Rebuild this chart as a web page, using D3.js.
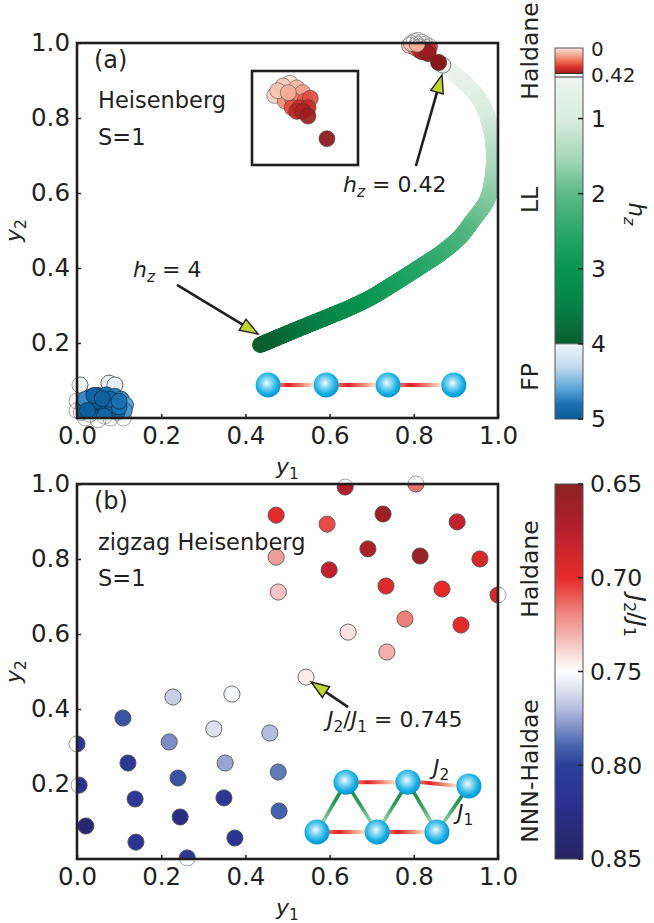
<!DOCTYPE html>
<html><head><meta charset="utf-8">
<script src="https://cdn.jsdelivr.net/npm/d3@7/dist/d3.min.js"></script>
<style>
body{margin:0;background:#fff}
text{font-family:"DejaVu Sans",sans-serif;fill:#231f20}
</style>
</head><body>
<svg id="c" width="654" height="923"></svg>
<script>
// ---------------- DATA ----------------
const axisTicks = [0.0, 0.2, 0.4, 0.6, 0.8, 1.0];
const yAxisTicks = [0.2, 0.4, 0.6, 0.8, 1.0];
const hzTicks = [0, 0.42, 1, 2, 3, 4, 5];
const jTicks = [0.65, 0.70, 0.75, 0.80, 0.85];

// (a) FP cluster
const fpY1 = [0.007,0.076,0.090,0.000,0.000,0.020,0.050,0.080,0.110,0.030,0.050,0.070,0.090,0.105,0.115,0.112,0.095,0.075,0.055,0.035,0.015,0.010,0.030,0.060,0.085,0.045,0.100,0.020,0.065,0.040,0.080,0.100,0.025,0.060];
const fpY2 = [0.088,0.093,0.088,0.045,0.020,0.000,-0.005,0.000,0.000,0.055,0.060,0.062,0.058,0.050,0.035,0.020,0.015,0.020,0.025,0.030,0.035,0.015,0.010,0.040,0.035,0.045,0.030,0.050,0.005,0.060,0.050,0.045,0.020,0.052];
const fpHz = [4.02,4.05,4.08,4.10,4.15,4.10,4.05,4.20,4.30,4.85,4.90,4.80,4.75,4.70,4.60,4.65,4.90,4.95,5.00,4.95,4.90,4.85,4.90,4.95,4.90,4.98,4.80,4.70,4.90,4.92,4.88,4.82,4.96,4.94];

// (a) Haldane cluster
const hdY1 = [0.790,0.810,0.801,0.819,0.827,0.804,0.814,0.830,0.837,0.813,0.823,0.834,0.819,0.827,0.834,0.794,0.808,0.859];
const hdY2 = [0.994,1.007,1.004,1.002,0.997,0.988,0.989,0.988,0.991,0.981,0.981,0.981,0.977,0.977,0.972,0.999,0.997,0.948];
const hdHz = [0.03,0.01,0.05,0.08,0.12,0.15,0.18,0.22,0.25,0.26,0.30,0.33,0.35,0.37,0.39,0.06,0.10,0.41];

// (a) LL band
const llY1 = [0.869,0.915,0.957,0.981,0.990,0.988,0.974,0.941,0.910,0.865,0.815,0.755,0.696,0.648,0.601,0.520,0.435];
const llY2 = [0.941,0.900,0.848,0.781,0.715,0.648,0.581,0.528,0.483,0.440,0.403,0.360,0.320,0.294,0.272,0.235,0.195];
const llHz = [0.42,0.60,0.80,1.05,1.30,1.50,1.70,1.90,2.10,2.30,2.50,2.70,2.90,3.10,3.30,3.65,4.00];

// (b) zigzag points
const zzY1 = [0.473,0.473,0.478,0.544,0.637,0.805,0.594,0.727,0.903,0.691,0.815,0.957,0.599,0.734,0.867,1.000,0.779,0.912,0.644,0.736,
              0.228,0.368,0.109,0.325,0.458,0.000,0.219,0.121,0.352,0.478,0.240,0.005,0.138,0.349,0.480,0.245,0.021,0.140,0.375,0.262];
const zzY2 = [0.917,0.805,0.712,0.485,0.992,1.000,0.893,0.920,0.899,0.827,0.808,0.800,0.771,0.728,0.720,0.704,0.640,0.624,0.605,0.552,
              0.432,0.440,0.376,0.347,0.336,0.307,0.312,0.256,0.256,0.232,0.216,0.197,0.160,0.163,0.128,0.112,0.088,0.045,0.056,0.003];
const zzJ  = [0.700,0.725,0.735,0.745,0.670,0.715,0.707,0.660,0.680,0.670,0.660,0.690,0.680,0.695,0.700,0.690,0.718,0.700,0.742,0.730,
              0.765,0.752,0.795,0.760,0.770,0.815,0.780,0.810,0.775,0.785,0.795,0.815,0.810,0.810,0.790,0.830,0.840,0.815,0.815,0.810];

// ---------------- COLOUR MAPS ----------------
const redMap = d3.scaleLinear().domain([0,0.1,0.2,0.3,0.38,0.42])
  .range(["#fbe1d8","#f5ae98","#ee6e55","#d8302c","#a8201f","#7a1616"]);
const greenMap = d3.scaleLinear().domain([0.42,1,1.5,2,2.5,3,3.5,4])
  .range(["#eef5f1","#d9ece0","#a9d8bb","#5cb987","#2aa86a","#069650","#07814a","#0b5e30"]);
const blueMap = d3.scaleLinear().domain([4,4.3,4.6,4.8,5])
  .range(["#f3f5f8","#c3dbee","#5aa3d8","#1a72b4","#0b5a98"]);
const hzColor = v => v < 0.42 ? redMap(v) : (v <= 4 ? greenMap(v) : blueMap(v));
const jColor = d3.scaleLinear()
  .domain([0.65,0.66,0.675,0.69,0.70,0.71,0.72,0.73,0.74,0.75,0.76,0.77,0.78,0.79,0.80,0.82,0.85])
  .range(["#8a2424","#9c2126","#b71f2e","#d6292a","#e52a2b","#eb5a52","#ef8984","#f3b0ac","#f8dad8","#ffffff",
          "#dde0ef","#b3bcdf","#7f8ec6","#4463ae","#2b4099","#2c3190","#262262"]);

// ---------------- LAYOUT ----------------
const svg = d3.select("#c");
const defs = svg.append("defs");
const L0 = 77, R0 = 498;
const xA = d3.scaleLinear([0,1],[L0,R0]);
const yA = d3.scaleLinear([0,1],[418,43]);
const xB = d3.scaleLinear([0,1],[L0,R0]);
const yB = d3.scaleLinear([0,1],[859,484]);
const R = 8;

defs.append("clipPath").attr("id","clipA").append("rect").attr("x",L0).attr("y",43).attr("width",R0-L0).attr("height",375);
defs.append("clipPath").attr("id","clipB").append("rect").attr("x",L0).attr("y",484).attr("width",R0-L0).attr("height",375);

function rich(sel, parts, size){
  let sub=false;
  parts.forEach(p=>{
    const ts = sel.append("tspan").text(p.t);
    if(p.it) ts.attr("font-style","italic");
    if(p.sub){ ts.attr("font-size", size*0.7); if(!sub) ts.attr("dy", size*0.22); }
    else if(sub){ ts.attr("dy", -size*0.22); }
    sub=!!p.sub;
  });
}

function points(g, xs, ys, cols, x, y, clip, stroke, sw, sop){
  const idx = d3.range(xs.length);
  g.append("g").selectAll("circle").data(idx).join("circle")
    .attr("cx",i=>x(xs[i])).attr("cy",i=>y(ys[i])).attr("r",R)
    .attr("fill","none").attr("stroke","#8a8a8a").attr("stroke-width",0.8);
  g.append("g").attr("clip-path",`url(#${clip})`).selectAll("circle").data(idx).join("circle")
    .attr("cx",i=>x(xs[i])).attr("cy",i=>y(ys[i])).attr("r",R)
    .attr("fill",i=>cols(i)).attr("stroke",stroke).attr("stroke-width",sw).attr("stroke-opacity",sop);
}

function axes(g, x, y, top){
  const ax = g.append("g").attr("transform",`translate(0,${top+375})`)
    .call(d3.axisBottom(x).tickValues(axisTicks).tickFormat(d3.format(".1f")).tickSize(-4).tickPadding(9));
  const ay = g.append("g").attr("transform",`translate(${L0},0)`)
    .call(d3.axisLeft(y).tickValues(yAxisTicks).tickFormat(d3.format(".1f")).tickSize(-4).tickPadding(7));
  [ax,ay].forEach(a=>{
    a.select(".domain").remove();
    a.selectAll(".tick line").attr("stroke","#231f20").attr("stroke-width",1.5);
    a.selectAll(".tick text").attr("font-size",24.5).attr("font-family","DejaVu Sans").attr("fill","#231f20");
  });
  g.append("rect").attr("x",L0).attr("y",top).attr("width",R0-L0).attr("height",375)
    .attr("fill","none").attr("stroke","#231f20").attr("stroke-width",2.6);
  const xl = g.append("text").attr("x",(L0+R0)/2).attr("y",top+375+56).attr("text-anchor","middle").attr("font-size",22);
  rich(xl,[{t:"y",it:true},{t:"1",sub:true}],22);
  const yl = g.append("text").attr("transform",`translate(21,${top+187.5}) rotate(-90)`).attr("text-anchor","middle").attr("font-size",22);
  rich(yl,[{t:"y",it:true},{t:"2",sub:true}],22);
}

// gradients for chain
const sph = defs.append("radialGradient").attr("id","sph").attr("cx","45%").attr("cy","42%").attr("r","58%");
[[0,"#f4fcff"],[0.3,"#90daf4"],[0.75,"#12ace2"],[1,"#0096cf"]].forEach(s=>sph.append("stop").attr("offset",s[0]).attr("stop-color",s[1]));
let gid=0;
function bond(g, x1,y1,x2,y2, stops, w){
  const id="bg"+(gid++);
  const lg = defs.append("linearGradient").attr("id",id).attr("gradientUnits","userSpaceOnUse")
    .attr("x1",x1).attr("y1",y1).attr("x2",x2).attr("y2",y2);
  stops.forEach(s=>lg.append("stop").attr("offset",s[0]).attr("stop-color",s[1]));
  g.append("line").attr("x1",x1).attr("y1",y1).attr("x2",x2).attr("y2",y2)
    .attr("stroke",`url(#${id})`).attr("stroke-width",w||4);
}
const redBond = [[0,"#ec6a5a"],[0.25,"#e41e26"],[0.6,"#f07b60"],[1,"#fbe6d0"]];
const greenBondA = [[0,"#d6ecd9"],[0.2,"#9fd2ad"],[0.55,"#2a9f5a"],[0.8,"#178d48"],[1,"#8fcb9f"]];
const greenBondB = [[0,"#8fcb9f"],[0.2,"#178d48"],[0.45,"#2a9f5a"],[0.8,"#9fd2ad"],[1,"#d6ecd9"]];
function sphere(g,cx,cy,r){ g.append("circle").attr("cx",cx).attr("cy",cy).attr("r",r).attr("fill","url(#sph)"); }

function arrow(g, tx,ty, hx,hy){
  const dx=hx-tx, dy=hy-ty, len=Math.hypot(dx,dy), ux=dx/len, uy=dy/len;
  const hl=18, hw=6.5;
  const bx=hx-ux*hl, by=hy-uy*hl;
  g.append("line").attr("x1",tx).attr("y1",ty).attr("x2",bx).attr("y2",by).attr("stroke","#231f20").attr("stroke-width",2.6);
  g.append("path").attr("d",`M${hx},${hy}L${bx-uy*hw},${by+ux*hw}L${bx+uy*hw},${by-ux*hw}Z`)
    .attr("fill","#bcd531").attr("stroke","#231f20").attr("stroke-width",1.4).attr("stroke-linejoin","miter");
}

// ================= PANEL (a) =================
const gA = svg.append("g");
// LL band
(function(){
  const band = gA.append("g").attr("clip-path","url(#clipA)");
  const idx = d3.range(llY1.length);
  const line = d3.line().x(i=>xA(llY1[i])).y(i=>yA(llY2[i])).curve(d3.curveCatmullRom.alpha(0.5));
  const tmp = band.append("path").attr("d",line(idx)).attr("fill","none");
  const node = tmp.node(), Ltot = node.getTotalLength();
  const cum=[0];
  for(let i=1;i<idx.length;i++) cum.push(cum[i-1]+Math.hypot(xA(llY1[i])-xA(llY1[i-1]), yA(llY2[i])-yA(llY2[i-1])));
  const hzAt = d3.scaleLinear().domain(cum.map(c=>c/cum[cum.length-1])).range(llHz);
  const N=400; let p0=node.getPointAtLength(0);
  for(let k=1;k<=N;k++){
    const p=node.getPointAtLength(Ltot*k/N);
    band.append("line").attr("x1",p0.x).attr("y1",p0.y).attr("x2",p.x).attr("y2",p.y)
      .attr("stroke",hzColor(hzAt((k-0.5)/N))).attr("stroke-width",16).attr("stroke-linecap","round");
    p0=p;
  }
  tmp.remove();
  gA.append("circle").attr("cx",xA(llY1[0])).attr("cy",yA(llY2[0])).attr("r",R)
    .attr("fill",hzColor(llHz[0])).attr("stroke","#666").attr("stroke-width",0.8);
})();
points(gA, fpY1, fpY2, i=>hzColor(fpHz[i]), xA, yA, "clipA", "#0a0a0a", 0.7, 0.7);
points(gA, hdY1, hdY2, i=>hzColor(hdHz[i]), xA, yA, "clipA", "#333", 0.7, 0.7);

// inset
const insL=252, insT=71, insR=358, insB=165;
defs.append("clipPath").attr("id","clipI").append("rect").attr("x",insL).attr("y",insT).attr("width",insR-insL).attr("height",insB-insT);
const xI = d3.scaleLinear([0.76,0.90],[insL,insR]);
const yI = d3.scaleLinear([0.92,1.02],[insB,insT]);
gA.append("rect").attr("x",insL).attr("y",insT).attr("width",insR-insL).attr("height",insB-insT).attr("fill","#fff");
gA.append("g").attr("clip-path","url(#clipI)").selectAll("circle").data(d3.range(hdY1.length)).join("circle")
  .attr("cx",i=>xI(hdY1[i])).attr("cy",i=>yI(hdY2[i])).attr("r",R)
  .attr("fill",i=>hzColor(hdHz[i])).attr("fill-opacity",0.92).attr("stroke","#333").attr("stroke-width",0.7).attr("stroke-opacity",0.7);
gA.append("rect").attr("x",insL).attr("y",insT).attr("width",insR-insL).attr("height",insB-insT)
  .attr("fill","none").attr("stroke","#231f20").attr("stroke-width",2.6);

// chain (a)
(function(){
  const cx=[0.454,0.592,0.739,0.895], cy=0.088;
  for(let i=0;i<cx.length-1;i++) bond(gA, xA(cx[i])+12, yA(cy), xA(cx[i+1])-12, yA(cy), redBond);
  cx.forEach(c=>sphere(gA, xA(c), yA(cy), 12.5));
})();

axes(gA, xA, yA, 43);

// texts (a)
gA.append("text").attr("x",94).attr("y",68).attr("font-size",24).text("(a)");
gA.append("text").attr("x",98).attr("y",108).attr("font-size",22.5).text("Heisenberg");
gA.append("text").attr("x",98).attr("y",145).attr("font-size",22.5).text("S=1");
arrow(gA, xA(0.805), yA(0.672), xA(0.867), yA(0.915));
arrow(gA, xA(0.2375), yA(0.355), xA(0.430), yA(0.224));
rich(gA.append("text").attr("x",343).attr("y",192).attr("font-size",22),[{t:"h",it:true},{t:"z",sub:true,it:true},{t:" = 0.42"}],22);
rich(gA.append("text").attr("x",133).attr("y",277).attr("font-size",22),[{t:"h",it:true},{t:"z",sub:true,it:true},{t:" = 4"}],22);

// colorbar (a)
(function(){
  const cbX=555, cbW=28;
  const cb = d3.scaleLinear().domain([0,0.42,5]).range([48,75,419]);
  const g = svg.append("g");
  for(let y=48;y<419;y+=1){
    const v = cb.invert(y+0.5);
    if(y>=73 && y<77) continue;
    g.append("rect").attr("x",cbX).attr("y",y).attr("width",cbW).attr("height",1.05).attr("fill",hzColor(Math.min(v,5)));
  }
  g.append("rect").attr("x",cbX).attr("y",73).attr("width",cbW).attr("height",4).attr("fill","#fff");
  [73.5,77].forEach(yy=>g.append("line").attr("x1",cbX).attr("x2",cbX+cbW).attr("y1",yy).attr("y2",yy).attr("stroke","#333").attr("stroke-width",1));
  g.append("line").attr("x1",cbX).attr("x2",cbX+cbW).attr("y1",cb(4)).attr("y2",cb(4)).attr("stroke","#777").attr("stroke-width",1);
  g.append("rect").attr("x",cbX).attr("y",48).attr("width",cbW).attr("height",371).attr("fill","none").attr("stroke","#555").attr("stroke-width",1);
  hzTicks.forEach(t=>{
    if(t>=1) g.append("line").attr("x1",cbX+cbW-5).attr("x2",cbX+cbW).attr("y1",cb(t)).attr("y2",cb(t)).attr("stroke","#231f20").attr("stroke-width",1.5);
    const small = t<1;
    g.append("text").attr("x",591).attr("y",t===0?49:cb(t)).attr("dy","0.36em")
      .attr("font-size",small?20:23.5).text(t);
  });
  const tl = g.append("text").attr("transform","translate(629,214) rotate(90)").attr("text-anchor","middle").attr("font-size",23);
  rich(tl,[{t:"h",it:true},{t:"z",sub:true,it:true}],23);
  [["Haldane",51],["LL",200],["FP",377]].forEach(d=>
    g.append("text").attr("transform",`translate(530,${d[1]}) rotate(-90)`).attr("text-anchor","middle").attr("dy","0.36em").attr("font-size",23.5).text(d[0]));
})();

// ================= PANEL (b) =================
const gB = svg.append("g");
points(gB, zzY1, zzY2, i=>jColor(zzJ[i]), xB, yB, "clipB", "#555", 0.8, 0.9);

// zigzag chain
(function(){
  const top=[[0.639,0.205],[0.786,0.205],[0.931,0.195]];
  const bot=[[0.570,0.072],[0.713,0.072],[0.855,0.072]];
  const P = p=>[xB(p[0]), yB(p[1])];
  const zz=[bot[0],top[0],bot[1],top[1],bot[2],top[2]];
  for(let i=0;i<zz.length-1;i++){ const a=P(zz[i]), b=P(zz[i+1]); bond(gB,a[0],a[1],b[0],b[1], i%2===0?greenBondA:greenBondB, 3.6); }
  for(let i=0;i<2;i++){ const a=P(top[i]), b=P(top[i+1]); bond(gB,a[0]+12,a[1],b[0]-12,b[1],redBond); }
  for(let i=0;i<2;i++){ const a=P(bot[i]), b=P(bot[i+1]); bond(gB,a[0]+12,a[1],b[0]-12,b[1],redBond); }
  top.concat(bot).forEach(p=>{ const q=P(p); sphere(gB,q[0],q[1],12.5); });
  rich(gB.append("text").attr("x",433).attr("y",775).attr("font-size",22),[{t:"J",it:true},{t:"2",sub:true}],22);
  rich(gB.append("text").attr("x",457).attr("y",820).attr("font-size",22),[{t:"J",it:true},{t:"1",sub:true}],22);
})();

axes(gB, xB, yB, 484);
gB.append("text").attr("x",94).attr("y",509).attr("font-size",24).text("(b)");
gB.append("text").attr("x",98).attr("y",550).attr("font-size",22.5).text("zigzag Heisenberg");
gB.append("text").attr("x",98).attr("y",586).attr("font-size",22.5).text("S=1");
arrow(gB, xB(0.644), yB(0.405), xB(0.556), yB(0.472));
rich(gB.append("text").attr("x",327).attr("y",727).attr("font-size",22),
  [{t:"J",it:true},{t:"2",sub:true},{t:"/"},{t:"J",it:true},{t:"1",sub:true},{t:" = 0.745"}],22);

// colorbar (b)
(function(){
  const cbX=555, cbW=28;
  const cb = d3.scaleLinear().domain([0.65,0.85]).range([484,859]);
  const g = svg.append("g");
  for(let y=484;y<859;y+=1){
    g.append("rect").attr("x",cbX).attr("y",y).attr("width",cbW).attr("height",1.05).attr("fill",jColor(cb.invert(y+0.5)));
  }
  g.append("rect").attr("x",cbX).attr("y",484).attr("width",cbW).attr("height",375).attr("fill","none").attr("stroke","#555").attr("stroke-width",1);
  jTicks.forEach(t=>{
    g.append("line").attr("x1",cbX+cbW-5).attr("x2",cbX+cbW).attr("y1",cb(t)).attr("y2",cb(t)).attr("stroke","#231f20").attr("stroke-width",1.5);
    g.append("text").attr("x",590).attr("y",cb(t)).attr("dy","0.36em").attr("font-size",23.5).text(d3.format(".2f")(t));
  });
  const tl = g.append("text").attr("transform","translate(629,616) rotate(90)").attr("text-anchor","middle").attr("font-size",23);
  rich(tl,[{t:"J",it:true},{t:"2",sub:true},{t:"/"},{t:"J",it:true},{t:"1",sub:true}],23);
  [["Haldane",569],["NNN-Haldae",771]].forEach(d=>
    g.append("text").attr("transform",`translate(530,${d[1]}) rotate(-90)`).attr("text-anchor","middle").attr("dy","0.36em").attr("font-size",23.5).text(d[0]));
})();
</script>
</body></html>
